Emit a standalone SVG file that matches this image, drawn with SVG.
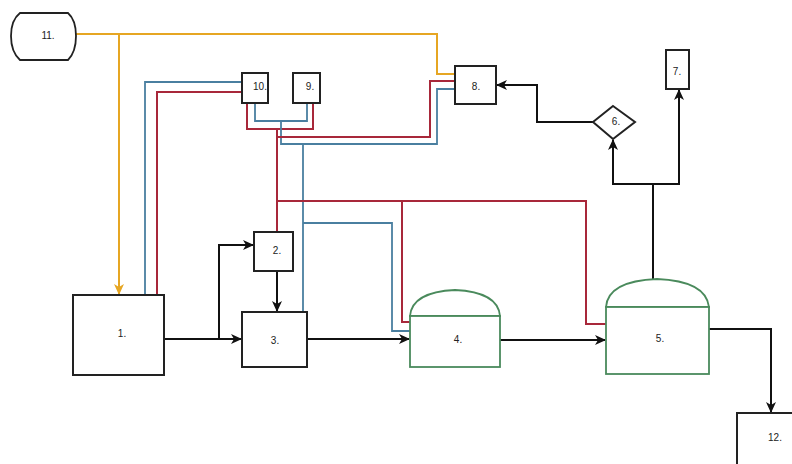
<svg xmlns="http://www.w3.org/2000/svg" width="792" height="464" viewBox="0 0 792 464">
<style>
.box{fill:#fff;stroke:#222;stroke-width:2}
.tank{fill:#fff;stroke:#4a8a5c;stroke-width:1.8}
.t{font-family:"Liberation Sans",Arial,sans-serif;font-size:10px;fill:#222;text-anchor:middle;dominant-baseline:central}
.k{fill:none;stroke:#111;stroke-width:2}
.o{fill:none;stroke:#e6a623;stroke-width:2}
.r{fill:none;stroke:#a8283a;stroke-width:2}
.b{fill:none;stroke:#4a7fa0;stroke-width:1.8}
</style>
<defs>
<marker id="ak" markerWidth="12" markerHeight="10" refX="10" refY="5" orient="auto" markerUnits="userSpaceOnUse">
<path d="M0,0 L11,5 L0,10 L3,5 Z" fill="#111"/>
</marker>
<marker id="ao" markerWidth="12" markerHeight="10" refX="10" refY="5" orient="auto" markerUnits="userSpaceOnUse">
<path d="M0,0 L11,5 L0,10 L3,5 Z" fill="#e6a623"/>
</marker>
</defs>
<rect width="792" height="464" fill="#fff"/>
<g id="connectors">
<path class="o" d="M76,34 H437 V74 H455"/>
<path class="o" d="M119,34 V294" marker-end="url(#ao)"/>
<path class="b" d="M242,82 H145 V295"/>
<path class="r" d="M242,92 H157 V295"/>
<path class="b" d="M255,104 V121 H307 V104"/>
<path class="r" d="M247,104 V129 H313 V104"/>
<path class="b" d="M281,121 V144 H437 V89 H455"/>
<path class="r" d="M277,129 V137 H430 V81 H455"/>
<path class="b" d="M303,144 V311"/>
<path class="b" d="M303,223 H392 V331 H410"/>
<path class="r" d="M277,137 V232"/>
<path class="r" d="M277,201 H586 V324 H606"/>
<path class="r" d="M402,201 V322 H410"/>
<path class="k" d="M165,339 H241" marker-end="url(#ak)"/>
<path class="k" d="M219,339 V245 H253" marker-end="url(#ak)"/>
<path class="k" d="M277,271 V311" marker-end="url(#ak)"/>
<path class="k" d="M307,339 H409" marker-end="url(#ak)"/>
<path class="k" d="M500,340 H605" marker-end="url(#ak)"/>
<path class="k" d="M653,279 V184 H613 V140" marker-end="url(#ak)"/>
<path class="k" d="M653,184 H679 V90" marker-end="url(#ak)"/>
<path class="k" d="M593,122 H537 V85 H497" marker-end="url(#ak)"/>
<path class="k" d="M709,329 H771 V412" marker-end="url(#ak)"/>
</g>
<g id="n11">
<path d="M20,13 H68 Q76,20 76,36 Q76,52 68,60 H20 Q11,52 11,36 Q11,20 20,13 Z" fill="#fff" stroke="#222" stroke-width="1.8"/>
<text class="t" x="48" y="35">11.</text>
</g>
<g id="n10">
<rect class="box" x="242" y="73" width="26" height="30"/>
<text class="t" x="260" y="86">10.</text>
</g>
<g id="n9">
<rect class="box" x="293" y="73" width="27" height="30"/>
<text class="t" x="310" y="86">9.</text>
</g>
<g id="n8">
<rect class="box" x="455" y="66" width="41" height="38"/>
<text class="t" x="476" y="86">8.</text>
</g>
<g id="n7">
<rect class="box" x="666" y="50" width="23" height="39"/>
<text class="t" x="677" y="71">7.</text>
</g>
<g id="n6">
<path class="box" d="M613,106 L635,122 L613,139 L593,122 Z"/>
<text class="t" x="616" y="121">6.</text>
</g>
<g id="n1">
<rect class="box" x="73" y="295" width="91" height="80"/>
<text class="t" x="122" y="333">1.</text>
</g>
<g id="n2">
<rect class="box" x="254" y="232" width="39" height="39"/>
<text class="t" x="277" y="250">2.</text>
</g>
<g id="n3">
<rect class="box" x="242" y="312" width="65" height="55"/>
<text class="t" x="275" y="340">3.</text>
</g>
<g id="n4">
<path class="tank" d="M410,316 Q412,292 455,290 Q498,292 500,316 Z"/>
<rect class="tank" x="410" y="316" width="90" height="51"/>
<text class="t" x="458" y="339">4.</text>
</g>
<g id="n5">
<path class="tank" d="M606,307 Q608,281 657,279 Q706,281 709,307 Z"/>
<rect class="tank" x="606" y="307" width="103" height="67"/>
<text class="t" x="660" y="338">5.</text>
</g>
<g id="n12">
<rect class="box" x="737" y="413" width="60" height="60"/>
<text class="t" x="775" y="437">12.</text>
</g>
</svg>
